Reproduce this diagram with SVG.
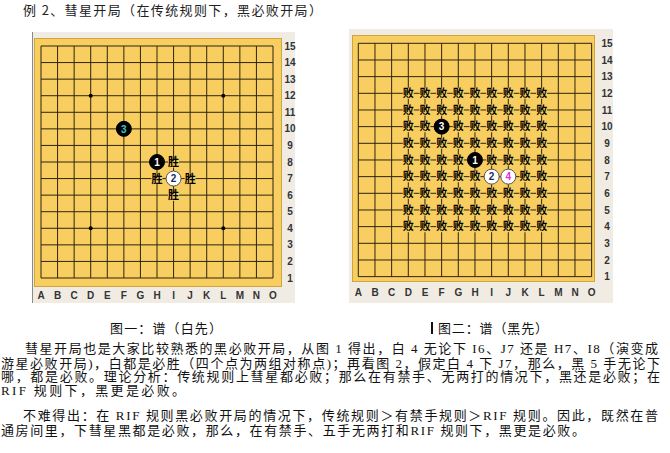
<svg xmlns="http://www.w3.org/2000/svg" width="670" height="453" viewBox="0 0 670 453">
<defs>
<style>
.t{font-family:"Liberation Serif","Noto Sans CJK SC",serif;font-size:13px;fill:#111}
.ts{font-family:"Noto Sans CJK SC",sans-serif;font-size:13px;fill:#222}
.panel{fill:#F0ECE4}
.board{fill:#F7CE5F;stroke:#D2A43E;stroke-width:1}
.grid{fill:none;stroke:#2E2410;stroke-width:1}
.lbl{font-family:"Liberation Sans",Arial,sans-serif;font-size:10px;font-weight:bold;fill:#333;text-anchor:middle}
.bs{fill:#000;stroke:#000;stroke-width:1}
.ws{fill:#fff;stroke:#555;stroke-width:1}
.sn{font-family:"Liberation Sans",Arial,sans-serif;font-size:10px;font-weight:bold;text-anchor:middle}
.mk{font-family:"Noto Sans CJK SC",sans-serif;font-size:11px;font-weight:bold;fill:#000;text-anchor:middle}
.mkbg{fill:#F7CE5F}
.mask{stroke:#F7CE5F;stroke-width:11;stroke-dasharray:11 5.667;fill:none}
</style>
</defs>
<rect width="670" height="453" fill="#fff"/>
<text class="ts" x="23" y="15" textLength="299" lengthAdjust="spacing">例 2、彗星开局（在传统规则下，黑必败开局）</text>

<g id="board1">
<rect class="panel" x="32" y="32" width="263" height="271"/>
<line x1="32.5" y1="32" x2="32.5" y2="303" stroke="#8a8a8a" stroke-width="1"/>
<rect class="board" x="34.5" y="38.5" width="247" height="248"/>
<g transform="translate(41,46)">
<path class="grid" d="M0 0H232M0 16.57H232M0 33.14H232M0 49.71H232M0 66.29H232M0 82.86H232M0 99.43H232M0 116H232M0 132.57H232M0 149.14H232M0 165.71H232M0 182.29H232M0 198.86H232M0 215.43H232M0 232H232M0 0V232M16.57 0V232M33.14 0V232M49.71 0V232M66.29 0V232M82.86 0V232M99.43 0V232M116 0V232M132.57 0V232M149.14 0V232M165.71 0V232M182.29 0V232M198.86 0V232M215.43 0V232M232 0V232"/>
<circle cx="49.71" cy="49.71" r="2"/><circle cx="182.29" cy="49.71" r="2"/><circle cx="49.71" cy="182.29" r="2"/><circle cx="182.29" cy="182.29" r="2"/>
<path class="mkbg" d="M127.07 110.5h11v11h-11zM110.5 127.07h11v11h-11zM143.64 127.07h11v11h-11zM127.07 143.64h11v11h-11z"/>
<text class="mk" x="132.57" y="120">胜</text>
<text class="mk" x="116" y="136.6">胜</text>
<text class="mk" x="149.14" y="136.6">胜</text>
<text class="mk" x="132.57" y="153.2">胜</text>
<circle class="bs" cx="116" cy="116" r="7.5"/><text class="sn" x="116" y="119.6" fill="#fff">1</text>
<circle class="ws" cx="132.57" cy="132.57" r="7.5"/><text class="sn" x="132.57" y="136.2" fill="#1a2a5a">2</text>
<circle class="bs" cx="82.86" cy="82.86" r="7.5"/><text class="sn" x="82.86" y="86.5" fill="#3cc8c8">3</text>
</g>
<g>
<text class="lbl" x="290" y="49.5">15</text><text class="lbl" x="290" y="66">14</text><text class="lbl" x="290" y="82.6">13</text><text class="lbl" x="290" y="99.2">12</text><text class="lbl" x="290" y="115.8">11</text><text class="lbl" x="290" y="132.4">10</text><text class="lbl" x="290" y="149">9</text><text class="lbl" x="290" y="165.5">8</text><text class="lbl" x="290" y="182.1">7</text><text class="lbl" x="290" y="198.7">6</text><text class="lbl" x="290" y="215.2">5</text><text class="lbl" x="290" y="231.8">4</text><text class="lbl" x="290" y="248.4">3</text><text class="lbl" x="290" y="265">2</text><text class="lbl" x="290" y="281.5">1</text>
<text class="lbl" x="41" y="299">A</text><text class="lbl" x="57.57" y="299">B</text><text class="lbl" x="74.14" y="299">C</text><text class="lbl" x="90.71" y="299">D</text><text class="lbl" x="107.29" y="299">E</text><text class="lbl" x="123.86" y="299">F</text><text class="lbl" x="140.43" y="299">G</text><text class="lbl" x="157" y="299">H</text><text class="lbl" x="173.57" y="299">I</text><text class="lbl" x="190.14" y="299">J</text><text class="lbl" x="206.71" y="299">K</text><text class="lbl" x="223.29" y="299">L</text><text class="lbl" x="239.86" y="299">M</text><text class="lbl" x="256.43" y="299">N</text><text class="lbl" x="273" y="299">O</text>
</g>
</g>

<g id="board2">
<rect class="panel" x="349" y="29" width="264" height="274"/>
<rect class="board" x="352.5" y="35.5" width="242" height="246"/>
<g transform="translate(358.3,43.3)">
<path class="grid" d="M0 0H233.33M0 16.67H233.33M0 33.33H233.33M0 50H233.33M0 66.67H233.33M0 83.33H233.33M0 100H233.33M0 116.67H233.33M0 133.33H233.33M0 150H233.33M0 166.67H233.33M0 183.33H233.33M0 200H233.33M0 216.67H233.33M0 233.33H233.33M0 0V233.33M16.67 0V233.33M33.33 0V233.33M50 0V233.33M66.67 0V233.33M83.33 0V233.33M100 0V233.33M116.67 0V233.33M133.33 0V233.33M150 0V233.33M166.67 0V233.33M183.33 0V233.33M200 0V233.33M216.67 0V233.33M233.33 0V233.33"/>
<path class="mask" d="M44.5 50H189M44.5 66.67H189M44.5 83.33H189M44.5 100H189M44.5 116.67H189M44.5 133.33H189M44.5 150H189M44.5 166.67H189M44.5 183.33H189"/>
<g id="marks">
<text class="mk" x="50" y="53.9">败</text><text class="mk" x="66.67" y="53.9">败</text><text class="mk" x="83.33" y="53.9">败</text><text class="mk" x="100" y="53.9">败</text><text class="mk" x="116.67" y="53.9">败</text><text class="mk" x="133.33" y="53.9">败</text><text class="mk" x="150" y="53.9">败</text><text class="mk" x="166.67" y="53.9">败</text><text class="mk" x="183.33" y="53.9">败</text>
<text class="mk" x="50" y="70.6">败</text><text class="mk" x="66.67" y="70.6">败</text><text class="mk" x="83.33" y="70.6">败</text><text class="mk" x="100" y="70.6">败</text><text class="mk" x="116.67" y="70.6">败</text><text class="mk" x="133.33" y="70.6">败</text><text class="mk" x="150" y="70.6">败</text><text class="mk" x="166.67" y="70.6">败</text><text class="mk" x="183.33" y="70.6">败</text>
<text class="mk" x="50" y="87.2">败</text><text class="mk" x="66.67" y="87.2">败</text><text class="mk" x="100" y="87.2">败</text><text class="mk" x="116.67" y="87.2">败</text><text class="mk" x="133.33" y="87.2">败</text><text class="mk" x="150" y="87.2">败</text><text class="mk" x="166.67" y="87.2">败</text><text class="mk" x="183.33" y="87.2">败</text>
<text class="mk" x="50" y="103.9">败</text><text class="mk" x="66.67" y="103.9">败</text><text class="mk" x="83.33" y="103.9">败</text><text class="mk" x="100" y="103.9">败</text><text class="mk" x="116.67" y="103.9">败</text><text class="mk" x="133.33" y="103.9">败</text><text class="mk" x="150" y="103.9">败</text><text class="mk" x="166.67" y="103.9">败</text><text class="mk" x="183.33" y="103.9">败</text>
<text class="mk" x="50" y="120.6">败</text><text class="mk" x="66.67" y="120.6">败</text><text class="mk" x="83.33" y="120.6">败</text><text class="mk" x="100" y="120.6">败</text><text class="mk" x="133.33" y="120.6">败</text><text class="mk" x="150" y="120.6">败</text><text class="mk" x="166.67" y="120.6">败</text><text class="mk" x="183.33" y="120.6">败</text>
<text class="mk" x="50" y="137.2">败</text><text class="mk" x="66.67" y="137.2">败</text><text class="mk" x="83.33" y="137.2">败</text><text class="mk" x="100" y="137.2">败</text><text class="mk" x="116.67" y="137.2">败</text><text class="mk" x="166.67" y="137.2">败</text><text class="mk" x="183.33" y="137.2">败</text>
<text class="mk" x="50" y="153.9">败</text><text class="mk" x="66.67" y="153.9">败</text><text class="mk" x="83.33" y="153.9">败</text><text class="mk" x="100" y="153.9">败</text><text class="mk" x="116.67" y="153.9">败</text><text class="mk" x="133.33" y="153.9">败</text><text class="mk" x="150" y="153.9">败</text><text class="mk" x="166.67" y="153.9">败</text><text class="mk" x="183.33" y="153.9">败</text>
<text class="mk" x="50" y="170.6">败</text><text class="mk" x="66.67" y="170.6">败</text><text class="mk" x="83.33" y="170.6">败</text><text class="mk" x="100" y="170.6">败</text><text class="mk" x="116.67" y="170.6">败</text><text class="mk" x="133.33" y="170.6">败</text><text class="mk" x="150" y="170.6">败</text><text class="mk" x="166.67" y="170.6">败</text><text class="mk" x="183.33" y="170.6">败</text>
<text class="mk" x="50" y="187.2">败</text><text class="mk" x="66.67" y="187.2">败</text><text class="mk" x="83.33" y="187.2">败</text><text class="mk" x="100" y="187.2">败</text><text class="mk" x="116.67" y="187.2">败</text><text class="mk" x="133.33" y="187.2">败</text><text class="mk" x="150" y="187.2">败</text><text class="mk" x="166.67" y="187.2">败</text><text class="mk" x="183.33" y="187.2">败</text>
</g>
<circle class="bs" cx="116.67" cy="116.67" r="7.5"/><text class="sn" x="116.67" y="120.3" fill="#fff">1</text>
<circle class="ws" cx="133.33" cy="133.33" r="7.5"/><text class="sn" x="133.33" y="137" fill="#1a2a5a">2</text>
<circle class="bs" cx="83.33" cy="83.33" r="7.5"/><text class="sn" x="83.33" y="87" fill="#fff">3</text>
<circle class="ws" cx="150" cy="133.33" r="7.5"/><text class="sn" x="150" y="137" fill="#e030e0">4</text>
</g>
<g>
<text class="lbl" x="607" y="47">15</text><text class="lbl" x="607" y="63.6">14</text><text class="lbl" x="607" y="80.3">13</text><text class="lbl" x="607" y="97">12</text><text class="lbl" x="607" y="113.6">11</text><text class="lbl" x="607" y="130.3">10</text><text class="lbl" x="607" y="147">9</text><text class="lbl" x="607" y="163.6">8</text><text class="lbl" x="607" y="180.3">7</text><text class="lbl" x="607" y="197">6</text><text class="lbl" x="607" y="213.6">5</text><text class="lbl" x="607" y="230.3">4</text><text class="lbl" x="607" y="247">3</text><text class="lbl" x="607" y="263.6">2</text><text class="lbl" x="607" y="280.3">1</text>
<text class="lbl" x="358.3" y="296">A</text><text class="lbl" x="375" y="296">B</text><text class="lbl" x="391.6" y="296">C</text><text class="lbl" x="408.3" y="296">D</text><text class="lbl" x="425" y="296">E</text><text class="lbl" x="441.6" y="296">F</text><text class="lbl" x="458.3" y="296">G</text><text class="lbl" x="475" y="296">H</text><text class="lbl" x="491.6" y="296">I</text><text class="lbl" x="508.3" y="296">J</text><text class="lbl" x="525" y="296">K</text><text class="lbl" x="541.6" y="296">L</text><text class="lbl" x="558.3" y="296">M</text><text class="lbl" x="575" y="296">N</text><text class="lbl" x="591.6" y="296">O</text>
</g>
</g>

<g id="captions">
<text class="t" x="110" y="333" textLength="112" lengthAdjust="spacing">图一：谱（白先）</text>
<rect x="431" y="322" width="2" height="12" fill="#111"/>
<text class="t" x="438" y="333" textLength="110" lengthAdjust="spacing">图二：谱（黑先）</text>
</g>

<g id="body">
<text class="t" x="25" y="353" textLength="633" lengthAdjust="spacing">彗星开局也是大家比较熟悉的黑必败开局，从图 1 得出，白 4 无论下 I6、J7 还是 H7、I8（演变成</text>
<text class="t" x="1" y="367.5" textLength="659" lengthAdjust="spacing">游星必败开局)，白都是必胜（四个点为两组对称点)；再看图 2，假定白 4 下 J7，那么，黑 5 手无论下</text>
<text class="t" x="1" y="381" textLength="659" lengthAdjust="spacing">哪，都是必败。理论分析：传统规则上彗星都必败；那么在有禁手、无两打的情况下，黑还是必败；在</text>
<text class="t" x="1" y="395" textLength="184" lengthAdjust="spacing">RIF 规则下，黑更是必败。</text>
<text class="t" x="23" y="420" textLength="635" lengthAdjust="spacing">不难得出：在 RIF 规则黑必败开局的情况下，传统规则＞有禁手规则＞RIF 规则。因此，既然在普</text>
<text class="t" x="1" y="435" textLength="584" lengthAdjust="spacing">通房间里，下彗星黑都是必败，那么，在有禁手、五手无两打和RIF 规则下，黑更是必败。</text>
</g>
</svg>
